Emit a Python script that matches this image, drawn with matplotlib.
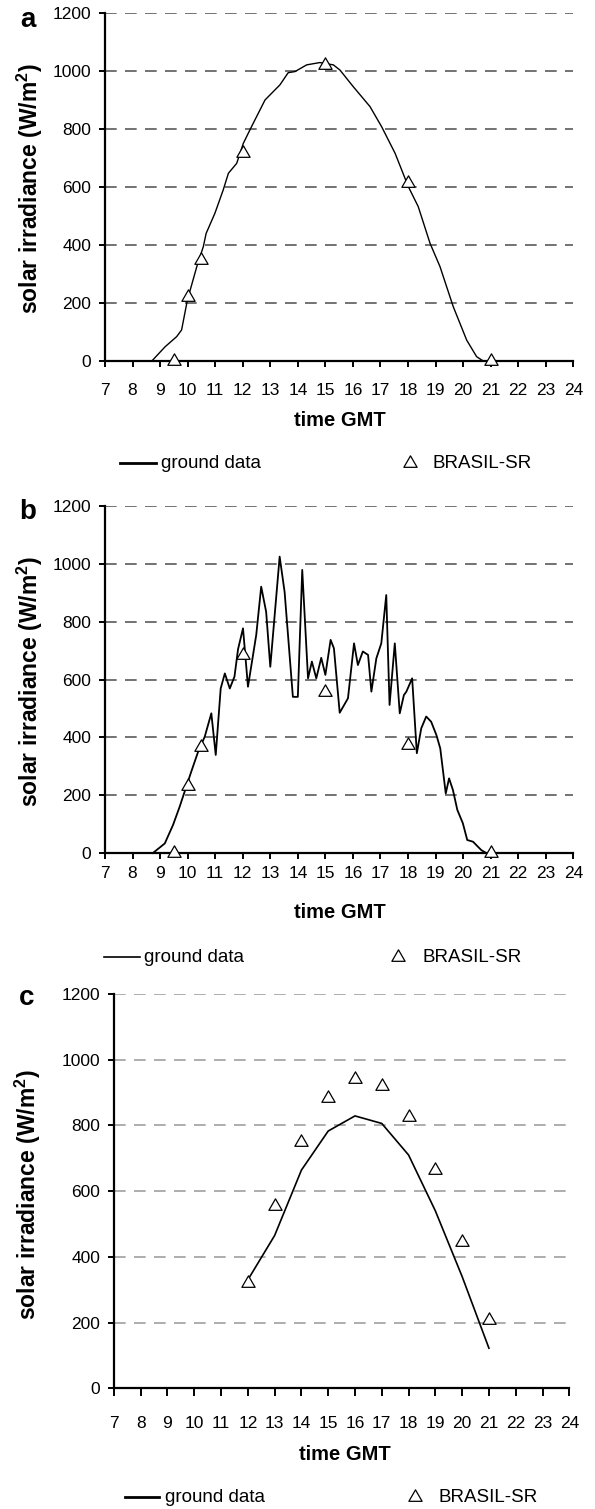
import matplotlib
matplotlib.use("Agg")
import matplotlib.pyplot as plt
from matplotlib.path import Path

plt.rcParams['font.family'] = ['Liberation Sans', 'DejaVu Sans']

# ---------------- data ----------------
# panel a (clear day)
a_time = [7, 8, 8.7, 9.18, 9.6, 9.78, 9.99, 10.33, 10.57, 10.67, 10.99, 11.29, 11.48,
          11.78, 12.02, 12.32, 12.81, 13.35, 13.65, 13.9, 14.32, 14.8, 15.29, 15.53,
          16.01, 16.62, 17.04, 17.53, 18.01, 18.37, 18.8, 19.16, 19.64, 20.13, 20.49,
          20.73, 22, 24]
a_ground = [0, 0, 0, 49, 84, 107, 210, 325, 395, 440, 510, 590, 648,
            682, 751, 809, 901, 953, 995, 999, 1022, 1030, 1022, 1004,
            947, 878, 809, 717, 602, 533, 406, 326, 188, 72, 15,
            0, 0, 0]
a_sat_time = [9.5, 10, 10.5, 12, 15, 18, 21]
a_sat = [0, 222, 348, 717, 1021, 615, 0]

# panel b (partly cloudy day)
b_time = [8.74, 9.17, 9.47, 9.71, 9.89, 10.13, 10.38, 10.62, 10.86, 11.02, 11.2, 11.35,
          11.53, 11.7, 11.83, 12.01, 12.19, 12.49, 12.67, 12.85, 13.0, 13.34, 13.52,
          13.82, 14.0, 14.16, 14.37, 14.51, 14.67, 14.85, 15.0, 15.19, 15.31, 15.52,
          15.82, 16.04, 16.18, 16.36, 16.55, 16.67, 16.85, 17.03, 17.21, 17.33, 17.52,
          17.7, 17.85, 17.94, 18.15, 18.32, 18.48, 18.66, 18.84, 19.03, 19.17, 19.37,
          19.49, 19.63, 19.79, 19.99, 20.15, 20.36, 20.66, 20.84]
b_ground = [0, 33, 97, 160, 212, 281, 350, 402, 483, 339, 569, 621,
            569, 610, 705, 777, 575, 754, 921, 834, 644, 1025, 903,
            540, 540, 979, 604, 662, 604, 675, 616, 737, 708, 485,
            535, 725, 650, 697, 685, 558, 673, 725, 892, 512, 725,
            483, 546, 558, 604, 345, 431, 472, 454, 408, 362, 206,
            258, 218, 149, 103, 45, 39, 10, 0]
b_sat_time = [9.5, 10, 10.5, 12, 15, 18, 21]
b_sat = [0, 232, 368, 685, 558, 373, 0]

# panel c (hourly values)
c_time = [12, 13, 14, 15, 16, 17, 18, 19, 20, 21]
c_ground = [330, 465, 664, 783, 829, 806, 710, 540, 340, 122]
c_sat_time = [12, 13, 14, 15, 16, 17, 18, 19, 20, 21]
c_sat = [320, 555, 749, 883, 940, 920, 827, 664, 446, 208]

x_ticks = list(range(7, 25))
y_ticks = [0, 200, 400, 600, 800, 1000, 1200]
ylabel = "solar irradiance (W/m$^{\\mathregular{2}}$)"
xlabel = "time GMT"
legend_line = "ground data"
legend_sat = "BRASIL-SR"

# --------------- figure ---------------
W, H = 595, 1509
fig = plt.figure(figsize=(W / 100, H / 100), dpi=100)

tri = Path([(-1, -0.577), (1, -0.577), (0, 1.155), (-1, -0.577)],
           [Path.MOVETO, Path.LINETO, Path.LINETO, Path.CLOSEPOLY])


def px_axes(l, r, t, b):
    return fig.add_axes([l / W, 1 - b / H, (r - l) / W, (b - t) / H])


def ftext(x, y, s, **kw):
    fig.text(x / W, 1 - y / H, s, **kw)


def style(ax, grid_color, xpad):
    ax.set_xlim(7, 24)
    ax.set_ylim(0, 1200)
    for s in ['top', 'right']:
        ax.spines[s].set_visible(False)
    for s in ['left', 'bottom']:
        ax.spines[s].set_linewidth(1.6)
        ax.spines[s].set_color('black')
    ax.set_xticks(x_ticks)
    ax.set_yticks(y_ticks)
    ax.tick_params(axis='both', direction='out', length=4, width=1.4,
                   labelsize=12.5, colors='black')
    ax.tick_params(axis='y', pad=6)
    ax.tick_params(axis='x', pad=xpad)
    for v in y_ticks[1:]:
        ax.axhline(v, color=grid_color, lw=1.2, linestyle=(0, (7, 5)), zorder=0)
    ax.set_facecolor('none')


def legend(y, x_line0, x_line1, x_text, x_tri, x_text2, lw):
    fig.add_artist(plt.Line2D([x_line0 / W, x_line1 / W], [1 - y / H, 1 - y / H],
                              color='black', lw=lw, transform=fig.transFigure))
    ftext(x_text, y, legend_line, fontsize=13.5, va='center', ha='left')
    fig.add_artist(plt.Line2D([x_tri / W], [1 - y / H], marker=tri, markersize=11,
                              markerfacecolor='white', markeredgecolor='black',
                              markeredgewidth=0.9, linestyle='none',
                              transform=fig.transFigure))
    ftext(x_text2, y, legend_sat, fontsize=13.5, va='center', ha='left')


YL = 16.5
XL = 14.5

# panel a
axa = px_axes(105, 573.3, 13.3, 361)
style(axa, '#5a5a5a', 12)
axa.plot(a_time, a_ground, color='black', lw=1.0, clip_on=False, zorder=3)
axa.plot(a_sat_time, a_sat, linestyle='none', marker=tri, markersize=11,
         markerfacecolor='white', markeredgecolor='black', markeredgewidth=0.9,
         clip_on=False, zorder=4)
ftext(30, 189, ylabel, rotation=90, fontsize=YL, fontweight='bold', ha='center', va='center')
ftext(340, 420, xlabel, fontsize=XL, fontweight='bold', ha='center', va='center')
ftext(28, 20, 'a', fontsize=20, fontweight='bold', ha='center', va='center')
legend(463, 120, 156, 161, 410, 433, 2.0)

# panel b
axb = px_axes(105, 573.3, 506, 853)
style(axb, '#5a5a5a', 5)
axb.plot(b_time, b_ground, color='black', lw=1.3, clip_on=False, zorder=3)
axb.plot(b_sat_time, b_sat, linestyle='none', marker=tri, markersize=11,
         markerfacecolor='white', markeredgecolor='black', markeredgewidth=0.9,
         clip_on=False, zorder=4)
ftext(30, 682, ylabel, rotation=90, fontsize=YL, fontweight='bold', ha='center', va='center')
ftext(340, 913, xlabel, fontsize=XL, fontweight='bold', ha='center', va='center')
ftext(28, 512, 'b', fontsize=20, fontweight='bold', ha='center', va='center')
legend(957, 104, 140, 144, 398, 423, 1.2)

# panel c
axc = px_axes(113.9, 569.3, 994, 1388.3)
style(axc, '#a0a0a0', 14)
axc.tick_params(axis='x', length=6)
axc.plot(c_time, c_ground, color='black', lw=1.2, clip_on=False, zorder=3)
axc.plot(c_sat_time, c_sat, linestyle='none', marker=tri, markersize=11,
         markerfacecolor='white', markeredgecolor='black', markeredgewidth=0.9,
         clip_on=False, zorder=4)
ftext(28, 1195, ylabel, rotation=90, fontsize=YL, fontweight='bold', ha='center', va='center')
ftext(345, 1455, xlabel, fontsize=XL, fontweight='bold', ha='center', va='center')
ftext(27, 998, 'c', fontsize=20, fontweight='bold', ha='center', va='center')
legend(1497, 125, 159, 165, 415, 438, 2.0)

fig.savefig('out.png', dpi=100)
